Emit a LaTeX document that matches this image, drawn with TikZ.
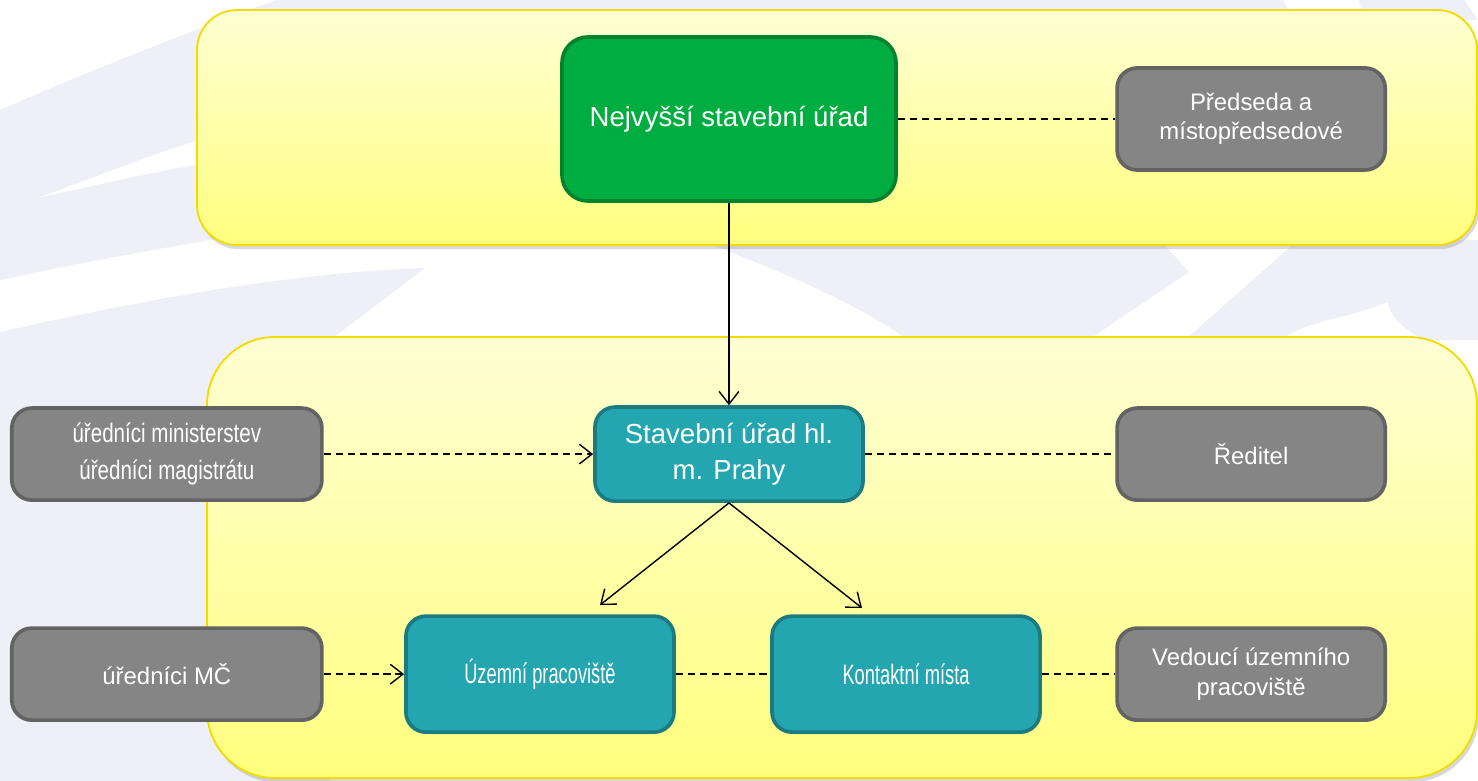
\documentclass[tikz,border=0pt]{standalone}
\usepackage{fontspec}
\setmainfont{Liberation Sans}
\newfontfamily\narrowfont{Liberation Sans}[FakeStretch=0.65]
\newfontfamily\halfnarrowfont{Liberation Sans}[FakeStretch=0.77]
\usepackage{tikz}
\usetikzlibrary{positioning,arrows.meta,shadows}

\definecolor{swooshcol}{HTML}{EFEFF7}
\definecolor{paneltop}{HTML}{FFFFD4}
\definecolor{panelbottom}{HTML}{FFFF7E}
\definecolor{panelline}{HTML}{F2DC00}
\definecolor{nsufill}{HTML}{00AD40}
\definecolor{nsuline}{HTML}{00822F}
\definecolor{tealfill}{HTML}{24A6B0}
\definecolor{tealline}{HTML}{1B7B80}
\definecolor{grayfill}{HTML}{858585}
\definecolor{grayline}{HTML}{636363}

\tikzset{
  panel/.style={draw=panelline, line width=1.3pt, top color=paneltop, bottom color=panelbottom,
    drop shadow={shadow xshift=1.5pt, shadow yshift=-3pt, opacity=0.3}},
  officebox/.style={rectangle, rounded corners=0.5cm, line width=2.6pt, text=white, align=center},
  nsubox/.style={officebox, rounded corners=0.65cm, draw=nsuline, fill=nsufill,
    minimum width=8.35cm, minimum height=4.1cm, font=\fontsize{19.6}{26}\selectfont},
  tealbox/.style={officebox, draw=tealline, fill=tealfill, minimum width=6.7cm},
  graybox/.style={officebox, draw=grayline, fill=grayfill, minimum width=6.7cm,
    minimum height=2.3cm, font=\fontsize{17}{21}\selectfont},
  dashline/.style={dash pattern=on 5pt off 3.5pt, line width=1pt}
}

\begin{document}
\begin{tikzpicture}[x=0.025cm, y=-0.025cm, >={Straight Barb[length=9pt,width=14pt]}, line width=1pt]
  \useasboundingbox (0,0) rectangle (1478,781);
  \fill[white] (0,0) rectangle (1478,781);
  \fill[swooshcol] (277,0) .. controls (180,35) and (80,75) .. (0,110) -- (0,280) .. controls (70,265) and (140,252) .. (210,240) -- (600,200) -- (600,0) -- cycle;
  \fill[white] (38,198) .. controls (100,175) and (150,155) .. (200,140) -- (200,164) .. controls (140,175) and (90,186) .. (38,198) -- cycle;
  \fill[swooshcol] (0,332) .. controls (150,298) and (300,272) .. (425,268) -- (330,340) -- (330,781) -- (0,781) -- cycle;
  \fill[swooshcol] (600,0) -- (1283,0) -- (1293,20) -- (600,20) -- cycle;
  \fill[swooshcol] (1359,0) -- (1464,0) -- (1478,20) -- (1364,20) -- cycle;
  \fill[swooshcol] (700,240) .. controls (790,275) and (860,305) .. (908,340) -- (1088,340) -- (1189,272) -- (1160,240) -- cycle;
  \fill[swooshcol] (1298,240) -- (1185,340) -- (1283,340) .. controls (1300,322) and (1350,318) .. (1388,302) .. controls (1390,320) and (1410,332) .. (1425,340) -- (1478,340) -- (1478,240) -- cycle;

  \draw[panel, rounded corners=1cm] (197,10) rectangle (1477,245);
  \draw[panel, rounded corners=1.7cm] (207,337) rectangle (1477,778);

  \node (nsu) [nsubox] at (729,119) {Nejvyšší stavební úřad};
  \node (predseda) [graybox, minimum height=2.55cm, right of=nsu, xshift=12.05cm] {Předseda a\\místopředsedové};
  \node (praha) [tealbox, minimum height=2.35cm, font=\fontsize{19.6}{25.5}\selectfont, below of=nsu, yshift=-7.375cm] {Stavební úřad hl.\\m. Prahy};
  \node (reditel) [graybox, right of=praha, xshift=12.05cm] {Ředitel};
  \node (ministerstev) [graybox, minimum width=7.75cm, font=\halfnarrowfont\fontsize{19}{26}\selectfont, left of=praha, xshift=-13.05cm] {úředníci ministerstev\\úředníci magistrátu};
  \node (uzemni) [tealbox, minimum height=2.9cm, font=\narrowfont\fontsize{20}{24}\selectfont, below of=praha, xshift=-4.725cm, yshift=-4.5cm] {Územní pracoviště};
  \node (kontakt) [tealbox, minimum height=2.9cm, font=\narrowfont\fontsize{20}{24}\selectfont, right of=uzemni, xshift=8.15cm] {Kontaktní místa};
  \node (vedouci) [graybox, right of=kontakt, xshift=7.625cm] {Vedoucí územního\\pracoviště};
  \node (mc) [graybox, minimum width=7.75cm, left of=uzemni, xshift=-8.325cm] {úředníci MČ};
  \coordinate (toUzemni) at (600,605);
  \coordinate (toKontakt) at (862,608);

  \draw[->] (nsu) -- (praha);
  \draw[dashline] (nsu) -- (predseda);
  \draw[dashline, ->] (ministerstev) -- (praha);
  \draw[dashline] (praha) -- (reditel);
  \draw[->] (praha.south) -- (toUzemni);
  \draw[->] (praha.south) -- (toKontakt);
  \draw[dashline, ->] (mc) -- (uzemni);
  \draw[dashline] (uzemni) -- (kontakt);
  \draw[dashline] (kontakt) -- (vedouci);
\end{tikzpicture}
\end{document}
